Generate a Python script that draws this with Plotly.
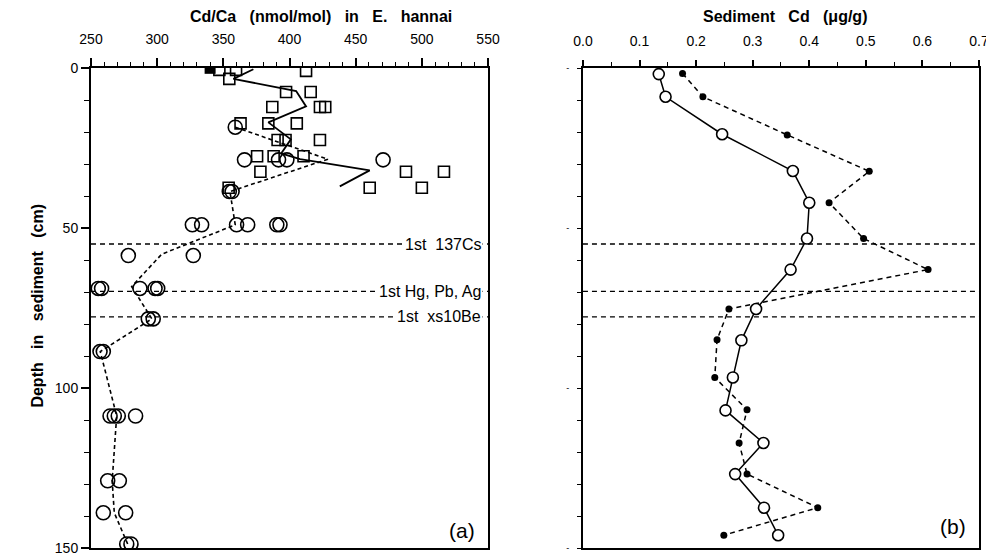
import plotly.graph_objects as go

# ---------------- Panel (a): Cd/Ca in E. hannai ----------------
sq_cdca = [347, 359.6, 412.5, 354.5, 397.4, 416, 387, 423, 427, 363, 384, 405.5,
           391, 397, 423, 375.5, 388, 410.6, 378, 488, 516.7, 354, 460.6, 500]
sq_depth = [0.6, 0.6, 0.9, 3.4, 7.5, 7.5, 12.2, 12.2, 12.2, 17.3, 17.3, 17.3,
            22.5, 22.5, 22.5, 27.6, 27.6, 27.6, 32.4, 32.4, 32.4, 37.4, 37.4, 37.4]
sq_filled_cdca = [340]
sq_filled_depth = [0.1]

sq_mean_cdca = [372.7, 357.6, 405, 412.5, 384, 401, 393.7, 408, 460.6, 438]
sq_mean_depth = [0.4, 3.4, 7.2, 12, 17, 22.3, 26.7, 28.5, 32, 37]

ci_cdca = [359, 366, 391.7, 398, 470.7, 354.5, 356.6,
           326.6, 333.6, 360, 368.4, 390.4, 392.8,
           278.2, 327.3, 255.5, 258, 287, 298.4, 300.4,
           293.3, 297, 256.8, 259.3, 264.4, 267.6, 270.6, 283.7,
           262.6, 271.4, 259.3, 276.2, 277, 280.2]
ci_depth = [18.5, 28.7, 28.7, 28.7, 28.7, 38.6, 38.6,
            49, 49, 49, 49, 49, 49,
            58.6, 58.6, 68.9, 68.9, 68.9, 68.9, 68.9,
            78.4, 78.4, 88.6, 88.6, 108.75, 108.75, 108.75, 108.75,
            129, 129, 139, 139, 148.75, 148.75]

ci_mean_cdca = [359, 429, 355, 359, 303.4, 280.7, 296, 257, 269.4, 266, 267.6, 277.7]
ci_mean_depth = [18.5, 28.5, 38.6, 49, 58.2, 68.3, 78.4, 88.6, 108.75, 129, 139, 148.75]

horizon_depths = [55.0, 69.8, 77.8]
horizon_labels = ["1st\u00a0 137Cs", "1st Hg, Pb, Ag", "1st\u00a0 xs10Be"]

# ---------------- Panel (b): Sediment Cd ----------------
open_cd = [0.134, 0.146, 0.246, 0.371, 0.400, 0.396, 0.367, 0.306, 0.280, 0.265,
           0.252, 0.319, 0.269, 0.320, 0.345]
open_depth = [1.9, 9.0, 20.7, 32.2, 42.1, 53.3, 63.0, 75.3, 85.1, 96.7,
              107.0, 117.2, 126.9, 137.4, 146.0]
fill_cd = [0.176, 0.212, 0.361, 0.506, 0.435, 0.496, 0.610, 0.258, 0.237, 0.233,
           0.290, 0.276, 0.290, 0.415, 0.249]
fill_depth = [1.7, 9.0, 20.9, 32.3, 42.1, 53.3, 63.0, 75.3, 84.9, 96.7,
              106.8, 117.2, 126.9, 137.4, 146.0]

FONT = "Liberation Sans, Arial, Helvetica, sans-serif"
SP = "\u00a0\u00a0 "

fig = go.Figure()

# panel (a) traces
fig.add_trace(go.Scatter(x=sq_mean_cdca, y=sq_mean_depth, mode="lines",
                         line=dict(color="black", width=1.8), xaxis="x", yaxis="y",
                         showlegend=False, hoverinfo="skip"))
fig.add_trace(go.Scatter(x=ci_mean_cdca, y=ci_mean_depth, mode="lines",
                         line=dict(color="black", width=1.6, dash="4px,3px"),
                         xaxis="x", yaxis="y", showlegend=False, hoverinfo="skip"))
fig.add_trace(go.Scatter(x=sq_cdca, y=sq_depth, mode="markers",
                         marker=dict(symbol="square-open", size=11, color="black",
                                     line=dict(width=1.6)),
                         xaxis="x", yaxis="y", showlegend=False))
fig.add_trace(go.Scatter(x=sq_filled_cdca, y=sq_filled_depth, mode="markers",
                         marker=dict(symbol="square", size=11, color="black"),
                         xaxis="x", yaxis="y", showlegend=False))
fig.add_trace(go.Scatter(x=ci_cdca, y=ci_depth, mode="markers",
                         marker=dict(symbol="circle-open", size=14, color="black",
                                     line=dict(width=1.6)),
                         xaxis="x", yaxis="y", showlegend=False))

# panel (b) traces
fig.add_trace(go.Scatter(x=fill_cd, y=fill_depth, mode="lines+markers",
                         line=dict(color="black", width=1.5, dash="5px,4px"),
                         marker=dict(symbol="circle", size=7, color="black"),
                         xaxis="x2", yaxis="y2", showlegend=False))
fig.add_trace(go.Scatter(x=open_cd, y=open_depth, mode="lines+markers",
                         line=dict(color="black", width=1.5),
                         marker=dict(symbol="circle", size=11, color="white",
                                     line=dict(color="black", width=1.6)),
                         xaxis="x2", yaxis="y2", showlegend=False))

shapes = []
annotations = []
for d, lab in zip(horizon_depths, horizon_labels):
    shapes.append(dict(type="line", xref="x", yref="y", x0=250, x1=550, y0=d, y1=d,
                       line=dict(color="black", width=1.3, dash="5px,4px"), layer="below"))
    shapes.append(dict(type="line", xref="x2", yref="y2", x0=0, x1=0.7, y0=d, y1=d,
                       line=dict(color="black", width=1.3, dash="5px,4px"), layer="below"))
    annotations.append(dict(x=550, y=d, xref="x", yref="y", text=lab, showarrow=False,
                            xanchor="right", yanchor="middle", xshift=-5,
                            bgcolor="white", borderpad=1,
                            font=dict(family=FONT, size=16, color="black")))

annotations += [
    dict(x=0.259, y=1.108, xref="paper", yref="paper",
         text="<b>Cd/Ca" + SP + "(nmol/mol)" + SP + "in" + SP + "E." + SP + "hannai</b>",
         showarrow=False, xanchor="center", yanchor="middle",
         font=dict(family=FONT, size=16, color="black")),
    dict(x=0.782, y=1.108, xref="paper", yref="paper",
         text="<b>Sediment" + SP + "Cd" + SP + "(\u03bcg/g)</b>",
         showarrow=False, xanchor="center", yanchor="middle",
         font=dict(family=FONT, size=16, color="black")),
    dict(x=-0.0597, y=0.505, xref="paper", yref="paper",
         text="<b>Depth" + SP + "in" + SP + "sediment" + SP + "(cm)</b>", textangle=-90,
         showarrow=False, xanchor="center", yanchor="middle",
         font=dict(family=FONT, size=16, color="black")),
    dict(x=0.4178, y=0.0375, xref="paper", yref="paper", text="(a)",
         showarrow=False, xanchor="center", yanchor="middle",
         font=dict(family=FONT, size=21, color="black")),
    dict(x=0.9707, y=0.0438, xref="paper", yref="paper", text="(b)",
         showarrow=False, xanchor="center", yanchor="middle",
         font=dict(family=FONT, size=21, color="black")),
]

axis_common = dict(showgrid=False, zeroline=False, showline=True, linecolor="black",
                   linewidth=2, mirror=True, ticks="outside", tickcolor="black",
                   automargin=False,
                   tickfont=dict(family=FONT, size=14, color="black"))

# the page places the figure 8 px from the top-left corner; margins compensate
fig.update_layout(
    width=986, height=548,
    margin=dict(l=83, r=15, t=60, b=8),
    paper_bgcolor="white", plot_bgcolor="white",
    showlegend=False,
    shapes=shapes, annotations=annotations,
    xaxis=dict(axis_common, domain=[0, 0.4471], range=[250, 550], side="top",
               anchor="y", dtick=50, ticklen=8, tickwidth=1.5, ticklabelstandoff=8,
               minor=dict(dtick=10, ticklen=4, tickwidth=1.2, ticks="outside", tickcolor="black")),
    yaxis=dict(axis_common, domain=[0, 1], range=[150, 0], anchor="x",
               dtick=50, ticklen=8, tickwidth=1.5,
               minor=dict(dtick=10, ticklen=5, tickwidth=1.2, ticks="outside", tickcolor="black")),
    xaxis2=dict(axis_common, domain=[0.554, 1], range=[0, 0.7], side="top",
                anchor="y2", dtick=0.1, tickformat=".1f", ticklen=6, tickwidth=1.5,
                ticklabelstandoff=8,
                minor=dict(dtick=0.05, ticklen=4, tickwidth=1.2, ticks="outside", tickcolor="black")),
    yaxis2=dict(axis_common, domain=[0, 1], range=[150, 0], anchor="x2",
                tickvals=[0, 50, 100, 150], ticktext=["-", "-", "-", "-"],
                ticklen=4, tickwidth=1.2, ticklabelstandoff=6,
                tickfont=dict(family=FONT, size=9, color="black"),
                minor=dict(dtick=10, ticklen=4, tickwidth=1.2, ticks="outside", tickcolor="black")),
)

fig.write_html("out.html")
